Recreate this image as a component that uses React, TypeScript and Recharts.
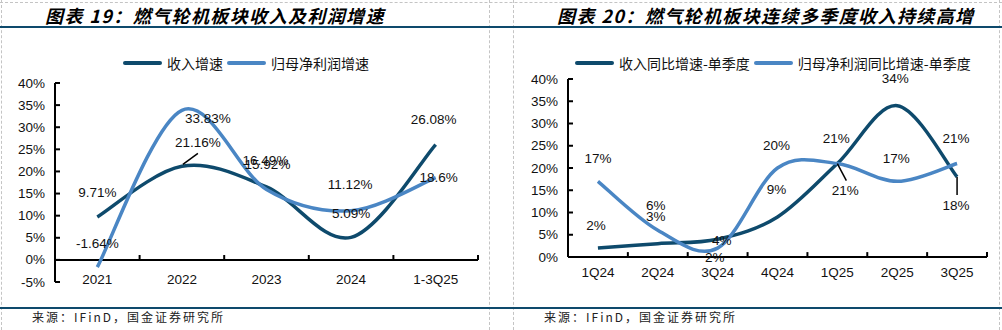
import React from "react";
import { LineChart, Line, XAxis, YAxis, ReferenceLine, LabelList } from "recharts";

// chart 19: yearly growth
const yearCats = ["2021", "2022", "2023", "2024", "1-3Q25"];
const revenueGrowth = [9.71, 21.16, 16.49, 5.09, 26.08];
const profitGrowth = [-1.64, 33.83, 15.92, 11.12, 18.6];
const yearTicks = [-5, 0, 5, 10, 15, 20, 25, 30, 35, 40];

// chart 20: single quarter yoy growth
const quarterCats = ["1Q24", "2Q24", "3Q24", "4Q24", "1Q25", "2Q25", "3Q25"];
const revenueQuarter = [2, 3, 4, 9, 21, 34, 18];
const profitQuarter = [17, 6, 2, 20, 21, 17, 21];
const quarterTicks = [0, 5, 10, 15, 20, 25, 30, 35, 40];

const DARK = "#0E4A6C";
const LIGHT = "#4A86C4";
const NUM_FONT = "'Liberation Sans', Arial, sans-serif";
const CJK_FONT = "'Noto Sans CJK SC', 'Noto Sans', sans-serif";

// label placement (dx, dy from the point, optional leader line)
type LabelPos = { dx: number; dy: number; leader?: [number, number, number, number] };
const yearRevLabels: LabelPos[] = [
  { dx: 0, dy: -24 },
  { dx: 16, dy: -24, leader: [1, -2, 16, -13] },
  { dx: -1, dy: -26 },
  { dx: 0, dy: -24 },
  { dx: -2, dy: -25 },
];
const yearProfitLabels: LabelPos[] = [
  { dx: 0, dy: -24 },
  { dx: 26, dy: 8 },
  { dx: 1, dy: -25 },
  { dx: -1, dy: -26 },
  { dx: 3, dy: 0 },
];
const quarterRevLabels: LabelPos[] = [
  { dx: -2, dy: -23 },
  { dx: -2, dy: -27 },
  { dx: 4, dy: 1 },
  { dx: -1, dy: -27 },
  { dx: 8, dy: 27, leader: [0, 0, 9, 17] },
  { dx: -2, dy: -27 },
  { dx: -1, dy: 29, leader: [0, 0, 0, 18] },
];
const quarterProfitLabels: LabelPos[] = [
  { dx: 0, dy: -23 },
  { dx: -2, dy: -25 },
  { dx: -3, dy: 9 },
  { dx: -1, dy: -23 },
  { dx: -1, dy: -25 },
  { dx: -1, dy: -23 },
  { dx: -1, dy: -25 },
];

// Excel-like smoothed line
const excelCurve = (context: any) => {
  let pts: number[][] = [];
  return {
    areaStart() {},
    areaEnd() {},
    lineStart() {
      pts = [];
    },
    point(x: number, y: number) {
      pts.push([+x, +y]);
    },
    lineEnd() {
      const n = pts.length;
      if (!n) return;
      context.moveTo(pts[0][0], pts[0][1]);
      for (let k = 0; k < n - 1; k++) {
        const p0 = pts[Math.max(k - 1, 0)];
        const p1 = pts[k];
        const p2 = pts[k + 1];
        const p3 = pts[Math.min(k + 2, n - 1)];
        context.bezierCurveTo(
          p1[0] + (p2[0] - p0[0]) / 6,
          p1[1] + (p2[1] - p0[1]) / 6,
          p2[0] - (p3[0] - p1[0]) / 6,
          p2[1] - (p3[1] - p1[1]) / 6,
          p2[0],
          p2[1]
        );
      }
    },
  };
};

const makeLabel = (positions: LabelPos[]) => (props: any) => {
  const { index, value } = props;
  const x = props.x ?? props.viewBox?.x;
  const y = props.y ?? props.viewBox?.y;
  if (x == null || y == null) return null;
  const pos = positions[index] || { dx: 0, dy: -24 };
  return (
    <g>
      {pos.leader && (
        <line
          x1={x + pos.leader[0]}
          y1={y + pos.leader[1]}
          x2={x + pos.leader[2]}
          y2={y + pos.leader[3]}
          stroke="#000"
          strokeWidth={1.5}
        />
      )}
      <text
        x={x + pos.dx}
        y={y + pos.dy}
        textAnchor="middle"
        dominantBaseline="central"
        fontFamily={NUM_FONT}
        fontSize={13.5}
        fill="#111"
      >
        {`${value}%`}
      </text>
    </g>
  );
};

const YTick = (props: any) => {
  const { x, y, payload } = props;
  return (
    <g>
      <line x1={x} y1={y} x2={x + 5} y2={y} stroke="#000" strokeWidth={2} />
      <text x={x - 10} y={y} textAnchor="end" dominantBaseline="central" fontFamily={NUM_FONT} fontSize={13.5} fill="#111">
        {`${payload.value}%`}
      </text>
    </g>
  );
};

const makeXTick = (cats: string[], dy: number) => (props: any) => {
  const { x, y, payload } = props;
  return (
    <text x={x} y={y + dy} textAnchor="middle" dominantBaseline="central" fontFamily={NUM_FONT} fontSize={13.5} fill="#111">
      {cats[payload.value]}
    </text>
  );
};

function LegendRow({ items, left, top }: { items: { name: string; color: string }[]; left: number; top: number }) {
  return (
    <div
      style={{
        position: "absolute",
        left,
        top,
        display: "flex",
        alignItems: "center",
        fontFamily: CJK_FONT,
        fontSize: 14,
        color: "#111",
        whiteSpace: "nowrap",
        lineHeight: "20px",
      }}
    >
      {items.map((it) => (
        <div key={it.name} style={{ display: "flex", alignItems: "center", marginRight: 4 }}>
          <span style={{ display: "inline-block", width: 39, height: 4, borderRadius: 2, background: it.color, marginRight: 5 }} />
          {it.name}
        </div>
      ))}
    </div>
  );
}

function GrowthChart(props: {
  cats: string[];
  rev: number[];
  profit: number[];
  ticks: number[];
  revLabels: LabelPos[];
  profitLabels: LabelPos[];
  left: number;
  width: number;
  height: number;
  margin: { top: number; right: number; bottom: number; left: number };
  yWidth: number;
  xLabelDy: number;
}) {
  const { cats, rev, profit, ticks } = props;
  const data = cats.map((c, i) => ({ i, cat: c, rev: rev[i], profit: profit[i] }));
  const idx = cats.map((_, i) => i);
  return (
    <div style={{ position: "absolute", left: props.left, top: 0 }}>
      <LineChart width={props.width} height={props.height} data={data} margin={props.margin}>
        <XAxis
          type="number"
          dataKey="i"
          domain={[-0.5, cats.length - 0.5]}
          ticks={idx}
          axisLine={false}
          tickLine={false}
          tickSize={0}
          tickMargin={0}
          height={30}
          interval={0}
          tick={makeXTick(cats, props.xLabelDy)}
        />
        <YAxis
          type="number"
          domain={[ticks[0], ticks[ticks.length - 1]]}
          ticks={ticks}
          interval={0}
          width={props.yWidth}
          axisLine={{ stroke: "#000", strokeWidth: 2 }}
          tickLine={false}
          tickSize={0}
          tickMargin={0}
          tick={YTick}
        />
        <ReferenceLine y={0} stroke="#000" strokeWidth={2} />
        {idx.map((i) => (
          <ReferenceLine
            key={i}
            segment={[
              { x: i + 0.5, y: 0 },
              { x: i + 0.5, y: 1.1 },
            ]}
            stroke="#000"
            strokeWidth={2}
          />
        ))}
        <Line
          dataKey="rev"
          type={excelCurve as any}
          stroke={DARK}
          strokeWidth={3.5}
          dot={false}
          activeDot={false}
          isAnimationActive={false}
        >
          <LabelList dataKey="rev" content={makeLabel(props.revLabels)} />
        </Line>
        <Line
          dataKey="profit"
          type={excelCurve as any}
          stroke={LIGHT}
          strokeWidth={3.5}
          dot={false}
          activeDot={false}
          isAnimationActive={false}
        >
          <LabelList dataKey="profit" content={makeLabel(props.profitLabels)} />
        </Line>
      </LineChart>
    </div>
  );
}

const dashV = (x: number) => (
  <div style={{ position: "absolute", left: x, top: 0, width: 0, height: 330, borderLeft: "1px dashed #c4c4c4" }} />
);

export default function App() {
  const titleStyle: React.CSSProperties = {
    position: "absolute",
    top: 3,
    fontFamily: CJK_FONT,
    fontWeight: 700,
    fontStyle: "italic",
    fontSize: 18,
    letterSpacing: 1.4,
    lineHeight: "24px",
    color: "#000",
    whiteSpace: "nowrap",
  };
  const sourceStyle: React.CSSProperties = {
    position: "absolute",
    top: 309,
    fontFamily: CJK_FONT,
    fontSize: 12,
    letterSpacing: 2,
    lineHeight: "16px",
    color: "#222",
    whiteSpace: "nowrap",
  };
  return (
    <div style={{ position: "absolute", left: 0, top: 0, width: 1002, height: 330, background: "#fff", overflow: "hidden" }}>
      <div style={{ position: "absolute", left: 0, top: 2, width: 1002, height: 0, borderTop: "1px dashed #c4c4c4" }} />
      {dashV(1)}
      {dashV(489)}
      {dashV(513)}
      {dashV(999)}
      <div style={{ position: "absolute", left: 0, top: 26, width: 1002, height: 2, background: DARK }} />
      <div style={{ position: "absolute", left: 0, top: 307, width: 1002, height: 2, background: DARK }} />

      <div style={{ ...titleStyle, left: 45 }}>图表 19：燃气轮机板块收入及利润增速</div>
      <div style={{ ...titleStyle, left: 557 }}>图表 20：燃气轮机板块连续多季度收入持续高增</div>

      <LegendRow
        left={123}
        top={53}
        items={[
          { name: "收入增速", color: DARK },
          { name: "归母净利润增速", color: LIGHT },
        ]}
      />
      <LegendRow
        left={575}
        top={53}
        items={[
          { name: "收入同比增速-单季度", color: DARK },
          { name: "归母净利润同比增速-单季度", color: LIGHT },
        ]}
      />

      <GrowthChart
        cats={yearCats}
        rev={revenueGrowth}
        profit={profitGrowth}
        ticks={yearTicks}
        revLabels={yearRevLabels}
        profitLabels={yearProfitLabels}
        left={0}
        width={490}
        height={312}
        margin={{ top: 83, right: 12, bottom: 0, left: 0 }}
        yWidth={55}
        xLabelDy={-3}
      />
      <GrowthChart
        cats={quarterCats}
        rev={revenueQuarter}
        profit={profitQuarter}
        ticks={quarterTicks}
        revLabels={quarterRevLabels}
        profitLabels={quarterProfitLabels}
        left={500}
        width={500}
        height={287}
        margin={{ top: 79, right: 13, bottom: 0, left: 0 }}
        yWidth={68}
        xLabelDy={15}
      />

      <div style={{ ...sourceStyle, left: 32 }}>来源：IFinD，国金证券研究所</div>
      <div style={{ ...sourceStyle, left: 544 }}>来源：IFinD，国金证券研究所</div>
    </div>
  );
}
